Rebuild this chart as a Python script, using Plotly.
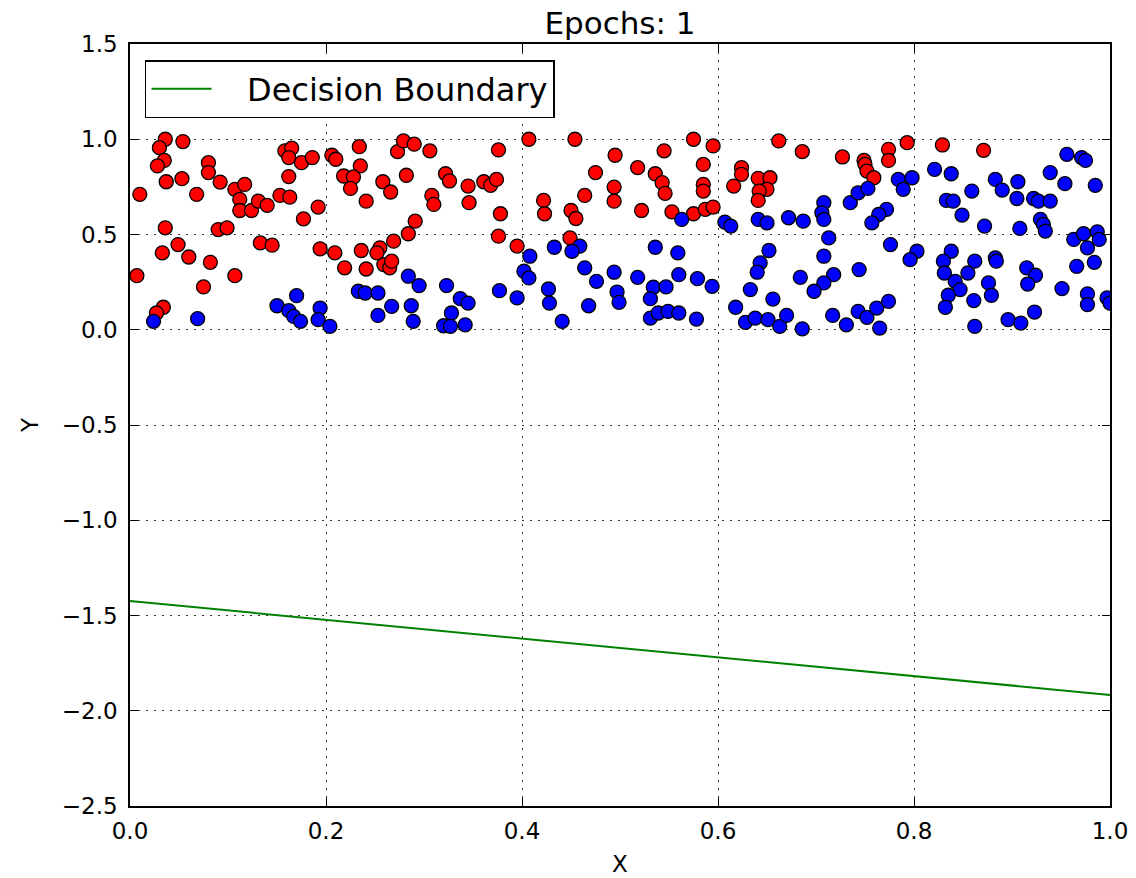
import plotly.graph_objects as go

# ---------------- data ----------------
red_x = [0.036, 0.054, 0.030, 0.035, 0.028, 0.080, 0.080, 0.037, 0.053, 0.092,
         0.010, 0.068, 0.107, 0.117, 0.112, 0.112, 0.124, 0.131, 0.140, 0.153,
         0.163, 0.162, 0.158, 0.165, 0.162, 0.175, 0.186, 0.177, 0.192, 0.036,
         0.090, 0.099, 0.049, 0.033, 0.060, 0.082, 0.007, 0.075, 0.107, 0.133,
         0.145, 0.194, 0.034, 0.027,
         0.206, 0.210, 0.234, 0.235, 0.218, 0.228, 0.225, 0.241, 0.273, 0.279,
         0.290, 0.306, 0.258, 0.266, 0.282, 0.308, 0.310, 0.322, 0.326, 0.345,
         0.346, 0.361, 0.368, 0.374, 0.376, 0.378, 0.376, 0.291, 0.284, 0.269,
         0.255, 0.236, 0.209, 0.219, 0.241, 0.259, 0.265, 0.267, 0.252, 0.395,
         0.407, 0.454, 0.575, 0.595, 0.495, 0.545, 0.585, 0.475, 0.518, 0.536,
         0.543, 0.546, 0.585, 0.585, 0.494, 0.494, 0.464, 0.422, 0.423, 0.450,
         0.455, 0.522, 0.553, 0.575, 0.587, 0.595, 0.449,
         0.662, 0.686, 0.727, 0.749, 0.774, 0.774, 0.793, 0.624, 0.624, 0.616,
         0.641, 0.653, 0.650, 0.642, 0.641, 0.750, 0.752, 0.759,
         0.829, 0.871]
red_y = [1.000, 0.988, 0.956, 0.889, 0.860, 0.877, 0.825, 0.777, 0.793, 0.775,
         0.711, 0.711, 0.737, 0.763, 0.684, 0.626, 0.626, 0.675, 0.653, 0.705,
         0.696, 0.804, 0.939, 0.953, 0.904, 0.877, 0.904, 0.582, 0.644, 0.535,
         0.526, 0.535, 0.447, 0.404, 0.382, 0.354, 0.284, 0.225, 0.284, 0.456,
         0.444, 0.425, 0.118, 0.088,
         0.916, 0.895, 0.961, 0.860, 0.807, 0.802, 0.742, 0.675, 0.935, 0.991,
         0.974, 0.939, 0.777, 0.723, 0.811, 0.705, 0.658, 0.819, 0.781, 0.754,
         0.667, 0.777, 0.758, 0.789, 0.944, 0.609, 0.491, 0.570, 0.504, 0.465,
         0.430, 0.416, 0.404, 0.325, 0.319, 0.342, 0.325, 0.360, 0.404, 0.439,
         1.000, 1.000, 1.000, 0.965, 0.916, 0.939, 0.868, 0.825, 0.851, 0.819,
         0.772, 0.716, 0.763, 0.728, 0.749, 0.675, 0.705, 0.679, 0.609, 0.626,
         0.584, 0.626, 0.619, 0.609, 0.632, 0.644, 0.482,
         0.991, 0.935, 0.907, 0.889, 0.947, 0.889, 0.982, 0.851, 0.816, 0.754,
         0.795, 0.798, 0.737, 0.728, 0.679, 0.868, 0.833, 0.798,
         0.970, 0.942]

blue_x = [0.024, 0.069, 0.150, 0.170, 0.162, 0.167, 0.174, 0.194, 0.192,
          0.284, 0.295, 0.323, 0.233, 0.240, 0.253, 0.204, 0.267, 0.253, 0.287,
          0.289, 0.337, 0.345, 0.328, 0.320, 0.327, 0.342, 0.377, 0.395,
          0.563, 0.408, 0.402, 0.407, 0.433, 0.459, 0.451, 0.464, 0.476, 0.494,
          0.497, 0.499, 0.427, 0.428, 0.468, 0.441, 0.518, 0.536, 0.559, 0.560,
          0.579, 0.594, 0.534, 0.547, 0.531, 0.531, 0.539, 0.549, 0.560, 0.578,
          0.607, 0.613, 0.641, 0.650, 0.672, 0.687, 0.708, 0.706, 0.708, 0.713,
          0.735, 0.743, 0.753, 0.772, 0.764, 0.757, 0.784, 0.789, 0.776, 0.652,
          0.643, 0.640, 0.633, 0.656, 0.684, 0.708, 0.718, 0.708, 0.698, 0.744,
          0.618, 0.628, 0.638, 0.651, 0.663, 0.670, 0.686, 0.717, 0.731, 0.743,
          0.752, 0.762, 0.774, 0.765,
          0.798, 0.821, 0.838, 0.859, 0.833, 0.840, 0.849, 0.872, 0.883, 0.890,
          0.906, 0.905, 0.922, 0.927, 0.939, 0.939, 0.929, 0.932, 0.934, 0.908,
          0.956, 0.971, 0.975, 0.954, 0.985, 0.963, 0.973, 0.987, 0.989, 0.977,
          0.966, 0.984, 0.803, 0.796, 0.838, 0.830, 0.831, 0.862, 0.855, 0.883,
          0.884, 0.915, 0.924, 0.916, 0.842, 0.847, 0.835, 0.832, 0.861, 0.876,
          0.879, 0.862, 0.896, 0.909, 0.923, 0.951, 0.977, 0.977, 0.997, 1.000]
blue_y = [0.044, 0.058, 0.126, 0.179, 0.100, 0.070, 0.044, 0.114, 0.053,
          0.281, 0.232, 0.232, 0.202, 0.193, 0.193, 0.018, 0.123, 0.075, 0.126,
          0.044, 0.163, 0.140, 0.088, 0.021, 0.018, 0.026, 0.205, 0.167,
          0.579, 0.386, 0.307, 0.272, 0.433, 0.439, 0.412, 0.325, 0.254, 0.302,
          0.198, 0.144, 0.214, 0.140, 0.126, 0.044, 0.275, 0.433, 0.404, 0.289,
          0.268, 0.228, 0.223, 0.225, 0.163, 0.061, 0.088, 0.096, 0.088, 0.056,
          0.565, 0.544, 0.579, 0.561, 0.588, 0.570, 0.667, 0.614, 0.579, 0.482,
          0.667, 0.719, 0.742, 0.632, 0.605, 0.561, 0.789, 0.737, 0.447, 0.416,
          0.351, 0.302, 0.211, 0.161, 0.275, 0.386, 0.289, 0.246, 0.202, 0.316,
          0.118, 0.039, 0.061, 0.053, 0.018, 0.075, 0.005, 0.075, 0.026, 0.096,
          0.065, 0.114, 0.149, 0.009,
          0.798, 0.842, 0.819, 0.728, 0.679, 0.675, 0.602, 0.544, 0.789, 0.733,
          0.777, 0.689, 0.689, 0.675, 0.675, 0.825, 0.579, 0.553, 0.518, 0.532,
          0.921, 0.904, 0.889, 0.767, 0.758, 0.474, 0.504, 0.514, 0.474, 0.430,
          0.333, 0.354, 0.412, 0.368, 0.412, 0.360, 0.298, 0.360, 0.298, 0.377,
          0.360, 0.325, 0.286, 0.240, 0.254, 0.211, 0.181, 0.118, 0.153, 0.246,
          0.181, 0.018, 0.053, 0.035, 0.093, 0.216, 0.188, 0.132, 0.167, 0.140]

boundary_x = [0.0, 1.0]
boundary_y = [-1.424, -1.917]

x_ticks = [0.0, 0.2, 0.4, 0.6, 0.8, 1.0]
y_ticks = [-2.5, -2.0, -1.5, -1.0, -0.5, 0.0, 0.5, 1.0, 1.5]

title_text = "Epochs: 1"
legend_label = "Decision Boundary"

# ---------------- figure ----------------
FONT = "DejaVu Sans"
fig = go.Figure()

marker_common = dict(size=14, line=dict(color="black", width=1.3))
fig.add_trace(go.Scatter(x=red_x, y=red_y, mode="markers", showlegend=False,
                         marker=dict(color="#ff0000", **marker_common)))
fig.add_trace(go.Scatter(x=blue_x, y=blue_y, mode="markers", showlegend=False,
                         marker=dict(color="#0000ff", **marker_common)))
fig.add_trace(go.Scatter(x=boundary_x, y=boundary_y, mode="lines",
                         name="\u00a0\u00a0\u00a0" + legend_label,
                         line=dict(color="#008000", width=2)))

axis_common = dict(
    showline=True, linecolor="black", linewidth=1.5, mirror="ticks",
    ticks="inside", ticklen=8, tickwidth=1, tickcolor="black",
    showgrid=True, gridcolor="#333333", gridwidth=1, griddash="2px,6px",
    zeroline=False, tickformat=".1f", automargin=False,
    tickfont=dict(family=FONT, size=23, color="black"),
)

fig.update_xaxes(range=[0, 1], tickvals=x_ticks, ticklabelstandoff=4,
                 title=dict(text="X", font=dict(family=FONT, size=23, color="black"),
                            standoff=13),
                 **axis_common)
fig.update_yaxes(range=[-2.5, 1.5], tickvals=y_ticks, ticklabelstandoff=6,
                 title=dict(text="Y", font=dict(family=FONT, size=23, color="black"),
                            standoff=17),
                 **axis_common)

fig.update_layout(
    width=1136, height=878,
    margin=dict(l=130, r=26, t=44, b=72),
    plot_bgcolor="white", paper_bgcolor="white",
    font=dict(family=FONT, color="black"),
    title=dict(text=title_text, x=0.5, xref="paper", xanchor="center",
               y=1, yref="paper", yanchor="bottom", pad=dict(b=10),
               font=dict(family=FONT, size=31, color="black")),
    legend=dict(x=0.0153, y=0.979, xanchor="left", yanchor="top",
                bordercolor="black", borderwidth=1.5, bgcolor="white",
                itemwidth=60,
                font=dict(family=FONT, size=32, color="black")),
)

fig.write_html("out.html", config={"displayModeBar": False},
               post_script="document.body.style.margin='0';")
